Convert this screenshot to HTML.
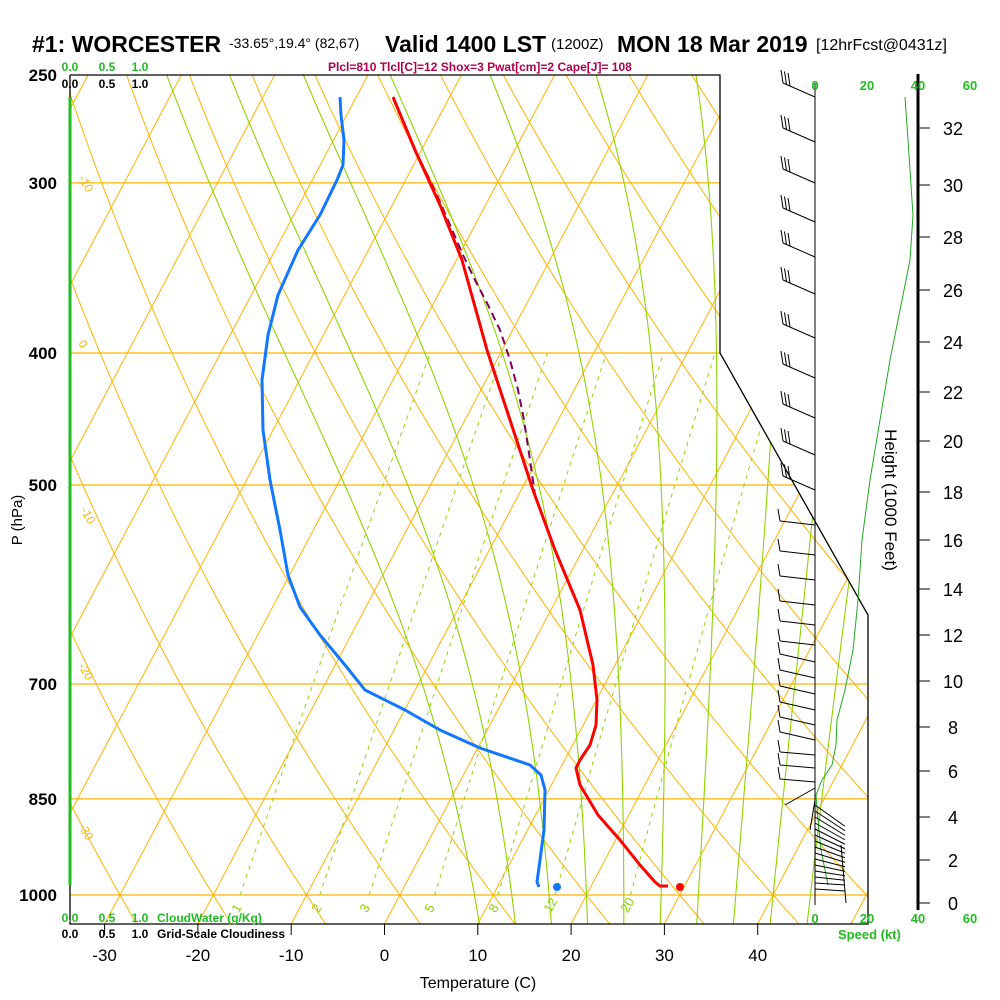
<!DOCTYPE html>
<html><head><meta charset="utf-8"><style>
body{margin:0;background:#fff;}
svg{display:block;font-family:"Liberation Sans",sans-serif;}
</style></head><body>
<svg id="s" width="1000" height="1000" xmlns="http://www.w3.org/2000/svg">
<defs><clipPath id="c"><polygon points="70,75 720,75 720,353 868,615 868,924 70,924"/></clipPath></defs>
<g id="bg" clip-path="url(#c)"></g>
<g id="fg"></g>
</svg>
<script>
const NS="http://www.w3.org/2000/svg";
const bg=document.getElementById('bg'), fg=document.getElementById('fg');
function el(p,tag,a,txt){const e=document.createElementNS(NS,tag);for(const k in a)e.setAttribute(k,a[k]);if(txt!==undefined)e.textContent=txt;p.appendChild(e);return e;}
const Y=p=>895-591.5*Math.log(1000/p);
const SK=0.53, SC=9.33;
const X=(T,p)=>384.5+SC*T+SK*(924-Y(p));
function line(g,pts,a){el(g,'polyline',Object.assign({points:pts.map(q=>q[0].toFixed(1)+','+q[1].toFixed(1)).join(' '),fill:'none'},a));}
const OR='#ffb400', GR='#8fd400';
[300,400,500,700,850,1000].forEach(p=>el(bg,'line',{x1:70,x2:868,y1:Y(p),y2:Y(p),stroke:OR,'stroke-width':1.2}));
for(let T=-120;T<=50;T+=10){line(bg,[[X(T,1080),Y(1080)],[X(T,200),Y(200)]],{stroke:OR,'stroke-width':1});}
for(let th=-60;th<=150;th+=10){const pts=[];for(let p=1080;p>=200;p-=10){const T=(th+273.15)*Math.pow(p/1000,0.2857)-273.15;pts.push([X(T,p),Y(p)]);}line(bg,pts,{stroke:OR,'stroke-width':1});}
function es(T){return 6.112*Math.exp(17.67*T/(T+243.5));}
for(let tw=8;tw<=44;tw+=4){let T=tw+273.15,p=1000;const pts=[[X(tw,1000),Y(1000)]];
 let T2=T;for(let q=1000;q<1080;q+=2){const e=es(T2-273.15),rs=0.622*e/(q-e);const d=(287*T2+2.5e6*rs)/(q*(1004+2.5e6*2.5e6*rs*0.622/(287*T2*T2)));T2+=d*2;}
 pts.unshift([X(T2-273.15,1080),Y(1080)]);
 while(p>200){const e=es(T-273.15),rs=0.622*e/(p-e);const d=(287*T+2.5e6*rs)/(p*(1004+2.5e6*2.5e6*rs*0.622/(287*T*T)));T-=d*2;p-=2;if(p%10==0)pts.push([X(T-273.15,p),Y(p)]);}
 line(bg,pts,{stroke:GR,'stroke-width':1.1});}
[1,2,3,5,8,12,20].forEach(w=>{const pts=[];for(let p=1000;p>=400;p-=10){const e=w*p/(622+w),l=Math.log(e/6.112),T=243.5*l/(17.67-l);pts.push([X(T,p),Y(p)]);}line(bg,pts,{stroke:GR,'stroke-width':1,'stroke-dasharray':'4,5'});});
[[236,"1"],[316,"2"],[364,"3"],[429,"5"],[493,"8"],[548,"12"],[625,"20"]].forEach(a=>el(bg,'text',{x:a[0],y:915,fill:GR,'font-size':13,transform:`rotate(-60 ${a[0]} 912)`},a[1]));
[[733,243,"0"],[757,378,"10"],[805,466,"20"],[853,555,"30"]].forEach(a=>el(bg,'text',{x:a[0],y:a[1],fill:OR,'font-size':20,'text-anchor':'middle',transform:`rotate(-60 ${a[0]} ${a[1]})`},a[2]));
[[78,178,"-10"],[78,343,"0"],[80,510,"-10"],[78,666,"-20"],[78,826,"-30"]].forEach(a=>el(bg,'text',{x:a[0],y:a[1],fill:OR,'font-size':12,transform:`rotate(60 ${a[0]} ${a[1]})`},a[2]));
el(fg,'polyline',{points:"70,75 720,75 720,353 868,615 868,924 70,924 70,75",fill:'none',stroke:'#000','stroke-width':1.3});
el(fg,'line',{x1:70,x2:70,y1:97,y2:885,stroke:'#22bb22','stroke-width':3});
for(let T=-30;T<=40;T+=10){const x=384.5+SC*T;el(fg,'line',{x1:x,x2:x,y1:924,y2:935,stroke:'#000'});el(fg,'text',{x:x,y:961,'font-size':17,'text-anchor':'middle'},String(T));}
el(fg,'text',{x:478,y:988,'font-size':16,'text-anchor':'middle'},"Temperature (C)");
[250,300,400,500,700,850,1000].forEach(p=>el(fg,'text',{x:57,y:Y(p)+6,'font-size':17,'font-weight':'bold','text-anchor':'end'},String(p)));
el(fg,'text',{x:22,y:520,'font-size':15,'text-anchor':'middle',transform:'rotate(-90 22 520)'},"P (hPa)");
el(fg,'text',{x:32,y:52,'font-size':23,'font-weight':'bold'},"#1: WORCESTER");
el(fg,'text',{x:229,y:48,'font-size':14},"-33.65°,19.4° (82,67)");
el(fg,'text',{x:385,y:52,'font-size':23,'font-weight':'bold'},"Valid 1400 LST");
el(fg,'text',{x:551,y:49,'font-size':15},"(1200Z)");
el(fg,'text',{x:617,y:52,'font-size':23,'font-weight':'bold'},"MON 18 Mar 2019");
el(fg,'text',{x:816,y:50,'font-size':16},"[12hrFcst@0431z]");
el(fg,'text',{x:328,y:71,'font-size':12,fill:'#b0004a','font-weight':'bold'},"Plcl=810 Tlcl[C]=12 Shox=3 Pwat[cm]=2 Cape[J]= 108");
[[70,"0.0"],[107,"0.5"],[140,"1.0"]].forEach(a=>{el(fg,'text',{x:a[0],y:71,'font-size':12,'font-weight':'bold',fill:'#22bb22','text-anchor':'middle'},a[1]);el(fg,'text',{x:a[0],y:88,'font-size':12,'font-weight':'bold','text-anchor':'middle'},a[1]);
 el(fg,'text',{x:a[0],y:922,'font-size':12,'font-weight':'bold',fill:'#22bb22','text-anchor':'middle'},a[1]);el(fg,'text',{x:a[0],y:938,'font-size':12,'font-weight':'bold','text-anchor':'middle'},a[1]);});
el(fg,'text',{x:157,y:922,'font-size':12,'font-weight':'bold',fill:'#22bb22'},"CloudWater (g/Kg)");
el(fg,'text',{x:157,y:938,'font-size':12,'font-weight':'bold'},"Grid-Scale Cloudiness");
const tp=[[393,97],[415,150],[440,205],[462,260],[487,350],[510,420],[533,490],[555,550],[580,610],[593,665],[597,700],[596,725],[590,745],[580,760],[576,768],[580,785],[598,815],[620,840],[640,865],[655,882],[660,886],[668,886]];
const pp=[[420,160],[437,195],[450,225],[463,255],[475,280],[488,305],[500,330],[510,360],[518,390],[524,420],[530,460],[535,495]];
const dp=[[340,97],[341,115],[344,140],[343,165],[337,180],[320,215],[298,250],[278,295],[268,335],[262,380],[263,430],[270,480],[280,530],[288,575],[300,607],[320,635],[345,665],[365,690],[405,710],[440,730],[480,748],[530,765],[541,775],[545,790],[544,830],[540,860],[537,882],[539,887]];
line(fg,pp,{stroke:'#800060','stroke-width':2,'stroke-dasharray':'8,5'});
line(fg,tp,{stroke:'#ff0000','stroke-width':3,'stroke-linejoin':'round'});
line(fg,dp,{stroke:'#1177ff','stroke-width':3,'stroke-linejoin':'round'});
el(fg,'circle',{cx:680,cy:887,r:4,fill:'#ff0000'});
el(fg,'circle',{cx:557,cy:887,r:4,fill:'#1177ff'});
el(fg,'line',{x1:815,x2:815,y1:83,y2:905,stroke:'#000','stroke-width':1});
el(fg,'line',{x1:918,x2:918,y1:74,y2:910,stroke:'#000','stroke-width':3});
[[815,"0"],[867,"20"],[918,"40"],[970,"60"]].forEach(a=>{el(fg,'text',{x:a[0],y:90,'font-size':13,'font-weight':'bold',fill:'#22bb22','text-anchor':'middle'},a[1]);el(fg,'text',{x:a[0],y:923,'font-size':13,'font-weight':'bold',fill:'#22bb22','text-anchor':'middle'},a[1]);});
el(fg,'text',{x:838,y:939,'font-size':13,'font-weight':'bold',fill:'#22bb22'},"Speed (kt)");
const hy={32:128,30:185,28:237,26:290,24:342,22:392,20:441,18:492,16:540,14:589,12:635,10:681,8:727,6:771,4:817,2:860,0:903};
for(const k in hy){el(fg,'line',{x1:918,x2:930,y1:hy[k],y2:hy[k],stroke:'#000'});el(fg,'text',{x:953,y:hy[k]+7,'font-size':18,'text-anchor':'middle'},k);}
el(fg,'text',{x:885,y:500,'font-size':17,'text-anchor':'middle',transform:'rotate(90 885 500)'},"Height (1000 Feet)");
line(fg,[[905,97],[908,140],[913,215],[910,260],[900,310],[890,360],[880,420],[870,480],[862,540],[858,600],[853,650],[845,690],[837,720],[836,745],[832,765],[822,780],[816,795],[818,820],[821,850],[828,885]],{stroke:'#22aa22','stroke-width':1});
const up=[97,142,183,222,257,294,338,378,418,455,490];
up.forEach(y=>{el(fg,'line',{x1:815,y1:y,x2:783,y2:y-14,stroke:'#000'});for(let i=0;i<3;i++){const bx=783+i*3.5,by=y-14+i*1.5;el(fg,'line',{x1:bx,y1:by,x2:bx-2,y2:by-13,stroke:'#000'});}});
[525,555,580,605,625,645,662,678,694,710,725,740,755,768,782].forEach((y,i)=>{const dy=i<6?-4:(i<12?-8:-3);el(fg,'line',{x1:815,y1:y,x2:780,y2:y+dy,stroke:'#000'});el(fg,'line',{x1:780,y1:y+dy,x2:778,y2:y+dy-12,stroke:'#000'});});
el(fg,'line',{x1:815,y1:788,x2:785,y2:805,stroke:'#000'});
el(fg,'line',{x1:815,y1:800,x2:810,y2:830,stroke:'#000'});
for(let y=805;y<=890;y+=6){el(fg,'line',{x1:815,y1:y,x2:845,y2:y+Math.max(2,(890-y)*0.25),stroke:'#000'});}
el(fg,'line',{x1:841,y1:845,x2:846,y2:903,stroke:'#000'});
</script>
</body></html>
